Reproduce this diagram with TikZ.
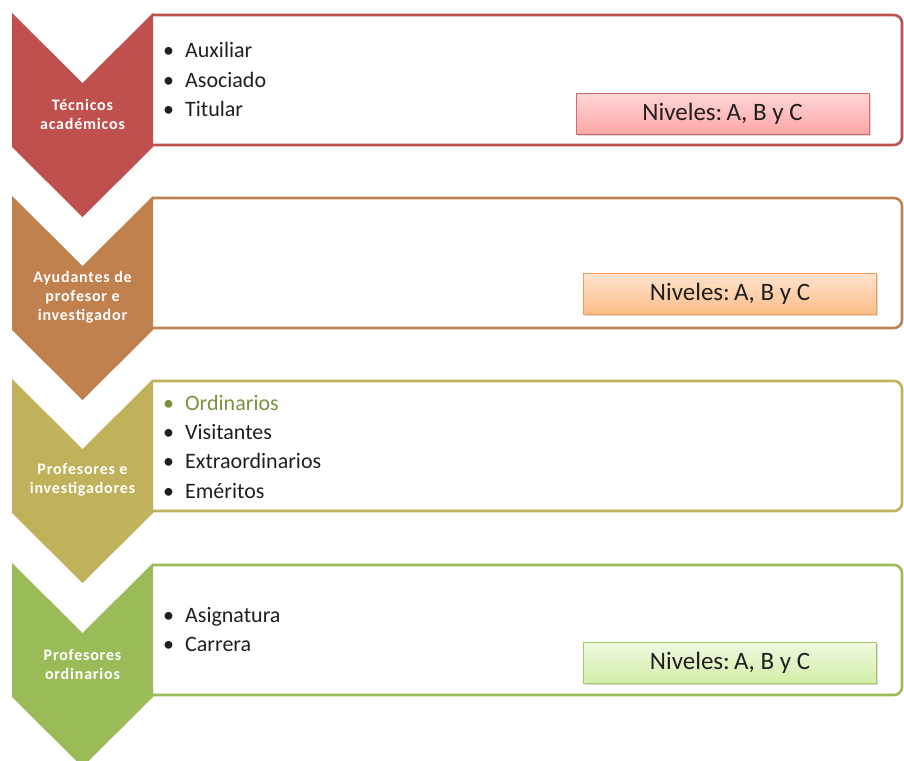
\documentclass[tikz,border=0pt]{standalone}
\usepackage{fontspec}
\setmainfont{Carlito}
\newfontfamily\chevfont[LetterSpace=5]{Carlito}
\usetikzlibrary{shadows}
\definecolor{tec red}{HTML}{C0504D}
\definecolor{ayu brown}{HTML}{C0814E}
\definecolor{pro olive}{HTML}{BFB25A}
\definecolor{ord green}{HTML}{9BBB59}
\definecolor{ordi text}{HTML}{77933C}
% level box colours: border, top, bottom
\definecolor{niv red line}{HTML}{D46A6A}
\definecolor{niv red top}{HTML}{FFD6D6}
\definecolor{niv red bot}{HTML}{FFA6A6}
\definecolor{niv orange line}{HTML}{F59C55}
\definecolor{niv orange top}{HTML}{FFE4D0}
\definecolor{niv orange bot}{HTML}{FCBD88}
\definecolor{niv green line}{HTML}{A6C968}
\definecolor{niv green top}{HTML}{F0FAE2}
\definecolor{niv green bot}{HTML}{D3EEA8}
\tikzset{
  rowbox/.style={draw=#1, line width=2.6pt, rounded corners=8pt},
  chevron/.style={fill=#1, draw=none},
  chevtext/.style={text=white, align=center, inner sep=0pt,
    font=\fontsize{16}{19}\chevfont\bfseries},
  item/.style={anchor=base west, inner sep=0pt, text=black!88,
    font=\fontsize{22}{26}\selectfont},
  niveles/.style={draw=niv #1 line, top color=niv #1 top, bottom color=niv #1 bot,
    minimum width=293pt, minimum height=41pt, inner sep=0pt,
    font=\fontsize{25}{29}\selectfont, text=black!88,
    drop shadow={shadow xshift=1.5pt, shadow yshift=-2pt, opacity=.3}}
}
\newcommand{\itm}[1]{\makebox[22pt][l]{\textbullet}#1}

\begin{document}
\begin{tikzpicture}[x=1pt, y=-1pt]
  \useasboundingbox (0,0) rectangle (904,760);
  % rows: box outline, chevron and its label
  \foreach \t/\c/\n/\txt in {13/tec red/tec/{T\'ecnicos\\acad\'emicos},
      196/ayu brown/ayu/{Ayudantes de\\profesor e\\investigador},
      379/pro olive/pro/{Profesores e\\investigadores},
      563/ord green/ord/{Profesores\\ordinarios}} {
    \draw[rowbox=\c] (153,\t+2) -- (902,\t+2) -- (902,\t+132) -- (153,\t+132);
    \fill[chevron=\c] (12,\t) -- (82.5,\t+70) -- (153,\t) -- (153,\t+134)
      -- (82.5,\t+204) -- (12,\t+134) -- cycle;
    \node[chevtext] (\n-label) at (82.5,\t+101) {\txt};
  }

  % items
  \node[item] (aux) at (163,58) {\itm{Auxiliar}};
  \node[item] (aso) at (163,87) {\itm{Asociado}};
  \node[item] (tit) at (163,116) {\itm{Titular}};

  \node[item, text=ordi text] (ordi) at (163,410) {\itm{Ordinarios}};
  \node[item] (vis) at (163,439) {\itm{Visitantes}};
  \node[item] (extra) at (163,468) {\itm{Extraordinarios}};
  \node[item] (emer) at (163,498) {\itm{Em\'eritos}};

  \node[item] (asig) at (163,622) {\itm{Asignatura}};
  \node[item] (carr) at (163,651) {\itm{Carrera}};

  % level boxes
  \node[niveles=red] (niv-tec) at (722.5,113.5) {Niveles:\,A, B y C};
  \node[niveles=orange] (niv-ayu) at (730,293.5) {Niveles:\,A, B y C};
  \node[niveles=green] (niv-ord) at (730,662.5) {Niveles:\,A, B y C};
\end{tikzpicture}
\end{document}
